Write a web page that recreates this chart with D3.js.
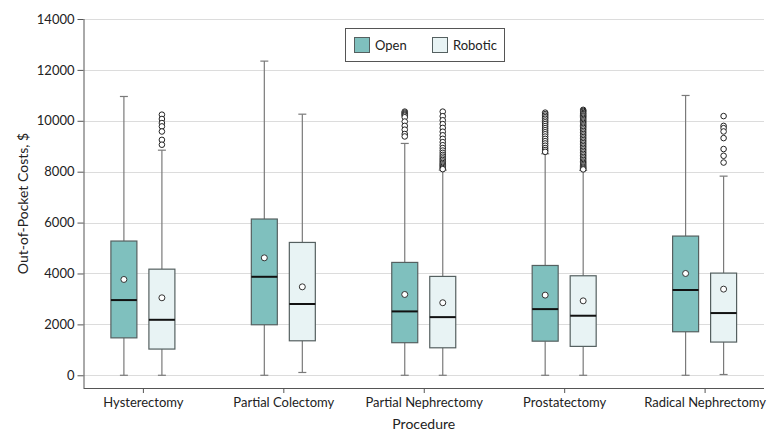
<!DOCTYPE html>
<html>
<head>
<meta charset="utf-8">
<script src="https://cdn.jsdelivr.net/npm/d3@7"></script>
<style>
  html, body { margin: 0; padding: 0; background: #fff; }
  svg { display: block; font-family: Lato, "Liberation Sans", sans-serif; }
</style>
</head>
<body>
<svg id="chart" width="780" height="443"></svg>
<script>
const procedures = ["Hysterectomy", "Partial Colectomy", "Partial Nephrectomy", "Prostatectomy", "Radical Nephrectomy"];
const groups = ["Open", "Robotic"];
const yTicks = [0, 2000, 4000, 6000, 8000, 10000, 12000, 14000];

const openMin    = [0, 0, 0, 0, 0];
const openQ1     = [1470, 1985, 1280, 1340, 1710];
const openMedian = [2955, 3870, 2510, 2600, 3350];
const openQ3     = [5275, 6140, 4435, 4315, 5470];
const openMax    = [10955, 12345, 9110, 8705, 10995];
const openMean   = [3765, 4615, 3175, 3150, 4000];

const roboticMin    = [0, 110, 0, 0, 30];
const roboticQ1     = [1030, 1355, 1080, 1135, 1305];
const roboticMedian = [2180, 2800, 2285, 2340, 2445];
const roboticQ3     = [4170, 5220, 3885, 3910, 4015];
const roboticMax    = [8845, 10260, 8060, 8050, 7825];
const roboticMean   = [3045, 3475, 2850, 2925, 3385];

const openOutliers = [
  [],
  [],
  [10360, 10320, 10280, 10240, 10200, 10140, 9970, 9800, 9650, 9480, 9385],
  [10320, 10260, 10200, 10140, 10080, 10010, 9940, 9870, 9790, 9710, 9630, 9550, 9470, 9380, 9290, 9200, 9110, 9020, 8930, 8850, 8780],
  []
];
const roboticOutliers = [
  [10240, 10070, 9910, 9780, 9580, 9250, 9060],
  [],
  [10360, 10180, 10020, 9870, 9720, 9570, 9430, 9290, 9160, 9040, 8930, 8830, 8740, 8660, 8590, 8520, 8460, 8400, 8340, 8290, 8240, 8190, 8140, 8100],
  [10430, 10390, 10350, 10300, 10260, 10210, 10170, 10120, 10070, 10020, 9970, 9920, 9870, 9820, 9770, 9720, 9660, 9600, 9540, 9480, 9420, 9360, 9300, 9240, 9180, 9120, 9060, 9000, 8940, 8880, 8820, 8760, 8700, 8640, 8580, 8520, 8460, 8400, 8350, 8300, 8250, 8200, 8160, 8120, 8090],
  [10185, 9800, 9710, 9580, 9320, 8890, 8625, 8360]
];

const colors = { Open: "#7fc0be", Robotic: "#e8f3f4" };

// build table
const stats = [];
procedures.forEach((p, i) => {
  stats.push({ proc: p, group: "Open", min: openMin[i], q1: openQ1[i], median: openMedian[i], q3: openQ3[i], max: openMax[i], mean: openMean[i], outliers: openOutliers[i] });
  stats.push({ proc: p, group: "Robotic", min: roboticMin[i], q1: roboticQ1[i], median: roboticMedian[i], q3: roboticQ3[i], max: roboticMax[i], mean: roboticMean[i], outliers: roboticOutliers[i] });
});

const svg = d3.select("#chart");
const pLeft = 83.5, pRight = 764, pTop = 19, pBottom = 388;

const x = d3.scalePoint().domain(procedures).range([pLeft, pRight]).padding(0.423);
const xg = d3.scaleBand().domain(groups).range([-32, 32]).paddingInner(0.316).paddingOuter(0);
const y = d3.scaleLinear().domain([-500, 14000]).range([pBottom, pTop]);

// gridlines
svg.append("g").selectAll("line").data(yTicks).join("line")
  .attr("x1", pLeft).attr("x2", pRight)
  .attr("y1", d => Math.round(y(d)) + 0.5).attr("y2", d => Math.round(y(d)) + 0.5)
  .attr("stroke", "#dcdcdc").attr("stroke-width", 1);

// axes
const yAxis = svg.append("g").attr("transform", `translate(${pLeft},0)`)
  .call(d3.axisLeft(y).tickValues(yTicks).tickSize(6).tickPadding(3).tickFormat(d3.format("d")));
const xAxis = svg.append("g").attr("transform", `translate(0,${pBottom})`)
  .call(d3.axisBottom(x).tickSize(5).tickPadding(5));
[yAxis, xAxis].forEach(a => {
  a.select(".domain").attr("stroke", "#555");
  a.selectAll(".tick line").attr("stroke", "#555");
  a.selectAll(".tick text").attr("fill", "#222").style("font-size", "13px").style("font-family", "Lato, sans-serif");
});
xAxis.select(".domain").attr("d", `M${pLeft},0.5H${pRight}`);
yAxis.select(".domain").attr("d", `M0.5,${pTop}V${pBottom}`);

// axis titles
svg.append("text").attr("x", (pLeft + pRight) / 2).attr("y", 429)
  .attr("text-anchor", "middle").attr("fill", "#222").style("font-size", "14px").text("Procedure");
svg.append("text").attr("transform", `translate(28,${(pTop + pBottom) / 2}) rotate(-90)`)
  .attr("text-anchor", "middle").attr("fill", "#222").style("font-size", "14px").text("Out-of-Pocket Costs, $");

// boxes
const bw = xg.bandwidth();
const g = svg.append("g").selectAll("g").data(stats).join("g")
  .attr("transform", d => `translate(${x(d.proc) + xg(d.group) + bw / 2},0)`);

g.append("line").attr("x1", 0).attr("x2", 0)
  .attr("y1", d => y(d.max)).attr("y2", d => y(d.q3))
  .attr("stroke", "#7a7a7a").attr("stroke-width", 1.2);
g.append("line").attr("x1", 0).attr("x2", 0)
  .attr("y1", d => y(d.q1)).attr("y2", d => y(d.min))
  .attr("stroke", "#7a7a7a").attr("stroke-width", 1.2);
g.append("line").attr("x1", -4).attr("x2", 4)
  .attr("y1", d => y(d.max)).attr("y2", d => y(d.max))
  .attr("stroke", "#7a7a7a").attr("stroke-width", 1.2);
g.append("line").attr("x1", -4).attr("x2", 4)
  .attr("y1", d => y(d.min)).attr("y2", d => y(d.min))
  .attr("stroke", "#7a7a7a").attr("stroke-width", 1.2);

g.append("rect").attr("x", -bw / 2).attr("width", bw)
  .attr("y", d => y(d.q3)).attr("height", d => y(d.q1) - y(d.q3))
  .attr("fill", d => colors[d.group]).attr("stroke", "#556060").attr("stroke-width", 1.2);

g.append("line").attr("x1", -bw / 2).attr("x2", bw / 2)
  .attr("y1", d => y(d.median)).attr("y2", d => y(d.median))
  .attr("stroke", "#111").attr("stroke-width", 2);

g.append("circle").attr("cx", 0).attr("cy", d => y(d.mean)).attr("r", 3)
  .attr("fill", "#fff").attr("stroke", "#333").attr("stroke-width", 1);

g.selectAll("circle.out").data(d => d.outliers).join("circle").attr("class", "out")
  .attr("cx", 0).attr("cy", d => y(d)).attr("r", 2.8)
  .attr("fill", "#fff").attr("stroke", "#222").attr("stroke-width", 1);

// legend
const lg = svg.append("g");
lg.append("rect").attr("x", 345.5).attr("y", 28.5).attr("width", 159).attr("height", 33)
  .attr("fill", "#fff").attr("stroke", "#555").attr("stroke-width", 1);
const items = lg.selectAll("g").data(groups).join("g")
  .attr("transform", (d, i) => `translate(${i === 0 ? 354 : 432},37)`);
items.append("rect").attr("x", 0.5).attr("y", 0.5).attr("width", 15).attr("height", 15)
  .attr("fill", d => colors[d]).attr("stroke", "#556060").attr("stroke-width", 1);
items.append("text").attr("x", 21).attr("y", 12.5).attr("fill", "#222")
  .style("font-size", "13px").text(d => d);
</script>
</body>
</html>
